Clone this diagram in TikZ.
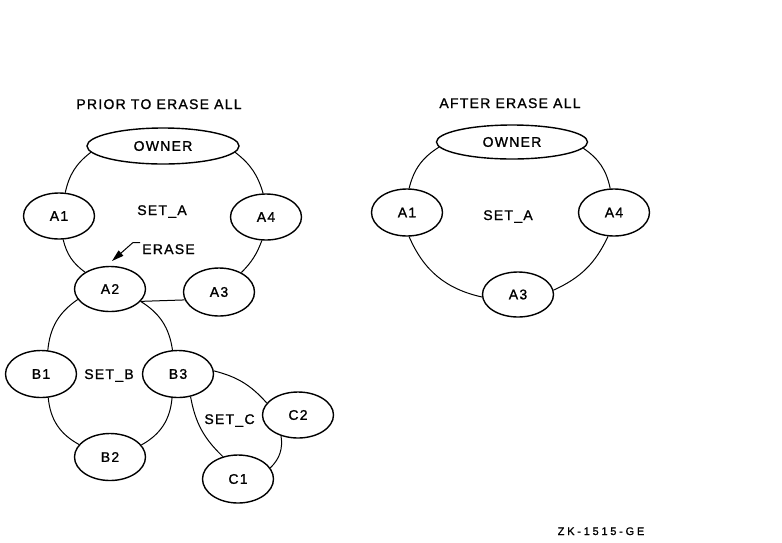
\documentclass[tikz,border=0pt]{standalone}
\usepackage{fontspec}
\setmainfont{Liberation Sans}[LetterSpace=9,FakeBold=1.2]
\newfontfamily\zkfont{Liberation Sans}[LetterSpace=25,FakeBold=1]
\usetikzlibrary{shapes.geometric,arrows.meta}
\begin{document}
\begin{tikzpicture}[x=1pt,y=-1pt,
  every node/.style={font=\fontsize{14}{16}\selectfont},
  ell/.style={draw, ellipse, line width=1.4pt, inner sep=0pt, minimum width=71pt, minimum height=46pt},
  own/.style={ell, minimum width=152pt, minimum height=36pt},
  lbl/.style={inner sep=0pt, anchor=base},
  link/.style={line width=1pt}]
\useasboundingbox (0,0) rectangle (782,542);
% titles
\node[lbl] (t1) at (159,109) {PRIOR TO ERASE ALL};
\node[lbl] (t2) at (510,108) {AFTER ERASE ALL};
% left diagram
\node[own] (lo) at (163,146) {OWNER};
\node[ell] (la1) at (59,216) {A1};
\node[ell] (la4) at (266,217) {A4};
\node[ell, minimum height=45pt] (la2) at (110,289) {A2};
\node[ell, minimum height=48pt] (la3) at (219,292) {A3};
\node[ell, minimum height=47pt] (lb1) at (41,374) {B1};
\node[ell, minimum height=47pt] (lb3) at (178,374) {B3};
\node[ell, minimum height=47pt] (lb2) at (110,457) {B2};
\node[ell] (lc2) at (298,415) {C2};
\node[ell, minimum height=48pt] (lc1) at (238,479) {C1};
\node[lbl] (lseta) at (162,215) {SET\_A};
\node[lbl] (erase) at (168.5,254) {ERASE};
\node[lbl] (lsetb) at (109,379) {SET\_B};
\node[lbl] (lsetc) at (229.5,424) {SET\_C};
\draw[link] (lo.185) to[bend right=20] (la1.75);
\draw[link] (la1.280) to[bend right=20] (la2.146);
\draw[link] (la2.338) -- (la3.193);
\draw[link] (la3.41) to[bend right=12] (la4.260);
\draw[link] (la4.97) to[bend right=18] (lo.355);
\draw[link] (la2.198) to[bend right=25] (lb1.74);
\draw[link] (lb1.287) to[bend right=28] (lb2.158);
\draw[link] (lb2.21) to[bend right=28] (lb3.256);
\draw[link] (lb3.103) to[bend right=25] (la2.338);
\draw[link] (lb3.299) to[bend right=18] (lc1.124);
\draw[link] (lc1.19) to[bend right=27] (lc2.231);
\draw[link] (lc2.159) to[bend right=17] (lb3.5);
\coordinate (estart) at (140,242.5);
\coordinate (ebend) at (133,242.5);
\coordinate (etip) at (112,261);
\draw[link, -{Triangle[length=12pt,width=7pt]}] (estart) -- (ebend) -- (etip);
% right diagram
\node[own, minimum width=151pt, minimum height=34pt] (ro) at (512,142) {OWNER};
\node[ell, minimum height=47pt] (ra1) at (407,212.5) {A1};
\node[ell, minimum height=47pt] (ra4) at (614,212.5) {A4};
\node[ell, minimum height=45pt] (ra3) at (518,294.5) {A3};
\node[lbl] (rseta) at (508,220) {SET\_A};
\draw[link] (ro.184) to[bend right=22] (ra1.85);
\draw[link] (ra1.275) to[bend right=27] (ra3.184);
\draw[link] (ra3.7) to[bend right=20] (ra4.256);
\draw[link] (ra4.99) to[bend right=22] (ro.355);
% figure code
\node[lbl, font=\zkfont\fontsize{11}{13}\selectfont] (zk) at (601,535) {ZK-1515-GE};
\end{tikzpicture}
\end{document}
